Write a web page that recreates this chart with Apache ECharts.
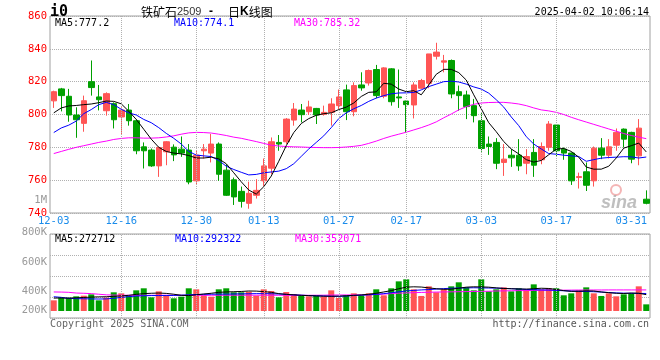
<!DOCTYPE html>
<html><head><meta charset="utf-8">
<script src="https://cdn.jsdelivr.net/npm/echarts@6/dist/echarts.min.js"></script>
<style>html,body{margin:0;padding:0;background:#fff}#c{width:660px;height:360px}</style>
</head><body><div id="c"></div>
<script>
const dates = ['12-03','12-04','12-05','12-06','12-09','12-10','12-11','12-12','12-13','12-16','12-17','12-18','12-19','12-20','12-23','12-24','12-25','12-26','12-27','12-30','12-31',
'01-02','01-03','01-06','01-07','01-08','01-09','01-10','01-13','01-14','01-15','01-16','01-17','01-20','01-21','01-22','01-23','01-24','01-27',
'02-05','02-06','02-07','02-10','02-11','02-12','02-13','02-14','02-17','02-18','02-19','02-20','02-21','02-24','02-25','02-26','02-27','02-28',
'03-03','03-04','03-05','03-06','03-07','03-10','03-11','03-12','03-13','03-14','03-17','03-18','03-19','03-20','03-21','03-24','03-25','03-26','03-27','03-28','03-31','04-01','04-02'];
const xLabels = ['12-03','12-16','12-30','01-13','01-27','02-17','03-03','03-17','03-31'];
const gridDates = ['12-16','12-30','01-13','01-27','02-17','03-03','03-17'];
const opens  = [808.3,815.6,811.1,799.7,794.6,820.0,810.7,802.3,806.6,798.5, 802.7,796.2,780.3,778.3,768.7,777.3,780.1,778.9,778.3,759.6, 777.9,776.5,782.0,766.1,760.2,753.2,745.9,750.8,759.6,767.3, 783.0,783.4,796.6,802.7,801.7,803.7,800.1,801.3,805.4,815.0, 801.7,818.0,819.2,827.4,811.1,827.8,810.7,808.2,805.8,816.0, 819.0,835.5,831.9,832.9,813.9,811.9,805.4,796.2,782.0,783.0, 770.8,775.2,775.2,770.3,776.9,772.4,780.0,793.6,778.9,776.5, 761.6,765.1,759.6,779.5,775.2,781.3,791.1,789.1,774.8,748.4];
const closes = [813.9,811.5,799.7,796.8,808.4,816.4,809.0,812.7,796.8,802.7, 796.2,777.9,777.9,768.7,779.9,783.4,775.4,776.5,758.9,775.2, 778.9,782.0,763.6,750.8,749.8,747.1,752.0,753.8,768.7,783.4, 782.0,797.2,803.3,799.9,804.6,799.7,801.3,806.4,810.7,801.7, 817.6,816.2,826.8,811.5,828.4,807.8,810.1,806.0,818.0,820.7, 836.9,838.0,832.7,812.5,811.5,804.8,799.3,779.3,780.5,770.3, 772.8,773.6,768.7,774.4,769.1,780.5,794.2,777.9,776.5,759.6, 762.2,756.9,779.5,775.2,780.3,789.1,785.0,772.8,791.7,745.9];
const lows   = [804.0,801.9,795.6,785.8,789.5,811.5,802.5,799.3,791.5,787.7, 793.2,775.8,767.1,768.1,762.0,769.1,771.6,774.2,757.5,757.5, 773.2,770.8,759.6,750.4,744.9,743.3,742.6,748.8,756.5,763.6, 777.9,782.0,793.2,795.2,799.7,794.2,799.3,793.2,803.3,796.6, 798.9,814.5,817.6,809.9,809.9,805.4,804.0,789.1,797.6,815.6, 816.0,833.5,825.7,809.9,802.3,797.2,795.2,777.3,775.4,766.7, 762.6,768.1,765.7,763.6,762.0,769.7,777.9,774.4,772.4,757.1, 754.9,753.4,756.1,772.8,773.2,777.9,779.9,770.3,769.1,745.3];
const highs  = [814.5,816.2,815.6,804.4,811.5,832.9,818.0,813.5,807.4,804.4, 806.4,797.2,783.0,779.3,780.5,783.8,781.8,786.6,782.0,778.3, 782.0,788.1,783.0,769.7,761.6,756.1,759.1,760.6,773.2,786.0, 787.5,797.8,807.0,806.4,808.4,804.0,805.4,809.9,815.2,818.2, 819.6,825.7,827.4,830.2,828.8,828.2,827.4,808.4,819.6,821.7, 836.9,843.7,836.3,833.5,817.6,814.5,809.5,801.3,786.6,785.6, 782.0,778.9,785.0,778.9,785.0,783.0,796.0,794.2,779.9,776.9, 764.6,770.8,780.5,785.6,785.0,791.5,791.5,789.5,797.2,753.8];
const ma5  = [801.0,804.0,805.2,805.5,806.0,806.4,807.2,808.2,808.0,806.5, 802.0,797.0,791.0,785.0,780.0,777.5,776.5,776.0,775.0,773.5, 773.5,774.0,773.0,770.0,764.5,759.0,754.0,751.5,756.0,762.5, 771.5,781.0,789.0,794.5,797.5,799.5,800.5,801.0,803.0,804.5, 807.0,811.0,813.5,813.8,819.0,818.5,815.5,813.9,814.5,812.0, 818.0,824.5,827.5,827.5,825.5,821.0,812.0,803.5,795.0,789.5, 783.5,779.0,776.0,772.5,771.0,772.0,775.5,778.9,779.3,777.5, 774.0,768.0,766.7,766.7,768.5,773.5,779.5,781.0,782.6,777.2];
const ma10 = [789.0,791.8,793.5,796.0,800.5,803.0,806.0,807.4,806.0,803.2, 801.0,799.7,797.0,795.0,792.0,788.5,785.5,782.0,777.5,775.3, 774.8,774.4,772.0,768.5,766.5,764.8,763.2,763.5,764.5,765.0, 765.5,767.0,770.0,774.5,779.0,783.0,787.0,792.0,797.5,801.0, 803.5,805.5,808.0,810.0,811.5,812.6,813.1,813.2,813.4,815.0, 817.0,818.5,820.0,820.3,819.8,818.5,816.8,815.5,813.0,809.0, 804.5,798.5,793.2,786.5,782.0,779.0,776.2,775.8,775.2,774.8, 774.4,771.5,772.5,773.4,773.8,774.0,774.3,774.2,773.5,774.1];
const ma30 = [776.2,777.5,778.8,780.0,781.0,782.0,783.0,783.8,784.8,785.4, 785.8,785.8,785.6,785.6,785.8,786.3,787.0,788.0,788.8,789.1, 789.0,788.7,788.0,787.2,786.2,785.5,784.5,783.5,782.4,781.3, 780.8,780.5,780.3,780.2,780.0,779.9,779.8,779.8,779.9,780.2, 780.6,781.2,782.4,783.8,785.4,786.8,788.0,789.2,790.6,792.0, 793.6,795.5,798.0,800.3,802.8,804.8,806.2,807.0,807.3,807.4, 807.4,807.0,806.4,805.4,804.0,802.8,802.2,801.3,800.0,798.3, 796.8,795.4,794.0,792.6,791.2,789.8,788.4,787.2,786.2,785.3];
const volumes = [178,223,223,245,256,278,178,223,312,295, 256,345,379,228,328,267,212,239,379,362, 262,239,362,379,312,312,323,256,362,334, 228,317,284,256,245,256,245,345,217,262, 295,262,295,362,262,379,495,529,362,251, 412,312,362,412,479,395,345,529,328,362, 395,328,379,362,445,362,379,379,262,295, 345,395,295,251,295,245,278,295,412,111].map(v => v * 1000);
const vma5  = [215,218,214,220,226,232,236,238,245,252, 262,278,290,296,300,294,280,262,258,270, 284,296,312,318,322,326,334,332,324,312, 290,278,270,262,256,252,248,246,248,254, 262,268,280,296,318,340,372,398,404,400, 386,372,362,364,380,398,404,402,398,386, 376,372,368,366,372,380,376,360,340,328, 330,336,334,318,306,296,292,300,296,273].map(v => v * 1000);
const vma10 = [238,228,210,206,204,202,200,202,212,228, 240,250,254,258,258,258,260,264,270,276, 278,280,282,282,284,286,288,290,290,288, 284,278,270,264,258,254,250,246,245,250, 258,264,270,278,290,304,320,334,344,352, 358,366,374,380,384,386,388,386,384,382, 378,372,366,360,356,352,350,344,338,332, 328,326,322,316,308,302,298,296,294,292].map(v => v * 1000);
const vma30 = [318,316,312,300,296,290,280,270,266,264, 262,262,262,262,262,263,263,262,262,262, 262,263,263,264,264,264,264,264,263,263, 263,262,262,262,262,263,264,266,267,268, 268,269,272,276,282,290,298,302,306,310, 313,316,318,320,322,324,326,328,330,334, 336,338,340,342,344,345,346,347,348,349, 350,350,351,351,352,352,352,352,352,352].map(v => v * 1000);
const volTickLabels = ['800K','600K','400K','200K'];
const priceHeader = {ma5:'777.2', ma10:'774.1', ma30:'785.32'};
const volHeader = {ma5:'272712', ma10:'292322', ma30:'352071'};

const MONO = "'DejaVu Sans Mono','Liberation Mono',monospace";
const UP = '#ff5555', DOWN = '#00a000';
const GRIDC = '#b0b0b0';
const volTickY = [232, 262, 291, 310];

const chart = echarts.init(document.getElementById('c'), null, {renderer:'canvas'});

function gridHost(xi, yi){
  return {type:'line', xAxisIndex:xi, yAxisIndex:yi, data:dates.map(()=>null), silent:true, z:1, symbol:'none',
    markLine:{silent:true, symbol:['none','none'], label:{show:false}, animation:false,
      lineStyle:{type:'dotted', color:GRIDC, width:1}, emphasis:{disabled:true},
      data: gridDates.map(d => ({xAxis:d}))}};
}
function maLine(xi, yi, data, color){
  return {type:'line', xAxisIndex:xi, yAxisIndex:yi, data:data, symbol:'none', silent:true, z:4,
    lineStyle:{width:1, color:color}, itemStyle:{color:color}};
}
function txt(x, y, text, fill, font, align){
  return {type:'text', x:x, y:y, silent:true, z:10, style:{text:text, fill:fill, font:font, textAlign:align||'left', textVerticalAlign:'middle'}};
}

const graphics = [
  txt(50, 12, 'i0', '#000', 'bold 15px ' + MONO),
  txt(141, 12, '铁矿石', '#000', "12px 'Noto Sans CJK SC'"),
  txt(177, 12, '2509', '#333', "11px 'Liberation Sans'"),
  txt(209, 12, '-', '#000', "bold 12px 'Liberation Sans'"),
  {type:'text', x:228, y:12, silent:true, z:10, style:{text:'{n|日}{k|K}{n|线图}', textVerticalAlign:'middle',
    rich:{n:{fill:'#000', font:"12px 'Noto Sans CJK SC'"}, k:{fill:'#000', font:"bold 12px 'Liberation Sans'"}}}},
  txt(649, 12, '2025-04-02 10:06:14', '#000', '10px ' + MONO, 'right'),
  txt(55, 23, 'MA5:' + priceHeader.ma5, '#000', '10px ' + MONO),
  txt(174, 23, 'MA10:' + priceHeader.ma10, '#0000ff', '10px ' + MONO),
  txt(294, 23, 'MA30:' + priceHeader.ma30, '#ff00ff', '10px ' + MONO),
  txt(55, 239, 'MA5:' + volHeader.ma5, '#000', '10px ' + MONO),
  txt(175, 239, 'MA10:' + volHeader.ma10, '#0000ff', '10px ' + MONO),
  txt(295, 239, 'MA30:' + volHeader.ma30, '#ff00ff', '10px ' + MONO),
  txt(47, 200.5, '1M', '#999', '10.5px ' + MONO, 'right'),
  txt(50, 324.5, 'Copyright 2025 SINA.COM', '#666', '10px ' + MONO),
  txt(649, 324.5, 'http://finance.sina.com.cn', '#555', '10px ' + MONO, 'right'),
  {type:'circle', shape:{cx:616, cy:190, r:5}, silent:true, z:9, style:{fill:'none', stroke:'rgba(240,150,150,0.7)', lineWidth:2}},
  txt(601, 203, 'sina', 'rgba(170,170,170,0.75)', 'italic bold 18px Arial', 'left')
];
volTickLabels.forEach((t, k) => graphics.push(txt(47, volTickY[k], t, '#999', '10.5px ' + MONO, 'right')));

const option = {
  animation:false,
  backgroundColor:'#fff',
  grid:[
    {left:50, right:10, top:16, height:197, show:true, borderColor:'#a0a0a0', borderWidth:1},
    {left:50, right:10, top:234, height:84, show:true, borderColor:'#a0a0a0', borderWidth:1}
  ],
  xAxis:[
    {type:'category', gridIndex:0, data:dates, boundaryGap:true,
     axisLine:{show:false}, axisTick:{show:false}, splitLine:{show:false},
     axisLabel:{interval:(i, v) => xLabels.includes(v), color:'#1a8ceb', fontFamily:MONO, fontSize:10.5, margin:3, hideOverlap:false}},
    {type:'category', gridIndex:1, data:dates, boundaryGap:true,
     axisLine:{show:false}, axisTick:{show:false}, splitLine:{show:false}, axisLabel:{show:false}}
  ],
  yAxis:[
    {type:'value', gridIndex:0, min:740, max:860, interval:20, scale:true,
     axisLine:{show:false}, axisTick:{show:false},
     splitLine:{lineStyle:{type:'dotted', color:GRIDC}},
     axisLabel:{color:'#ff0000', fontFamily:MONO, fontSize:10.5, margin:3}},
    {type:'value', gridIndex:1, min:-117000, max:1286000, show:false, splitLine:{show:false}},
    {type:'value', gridIndex:1, min:0, max:4, interval:1,
     axisLine:{show:false}, axisTick:{show:false}, axisLabel:{show:false},
     splitLine:{lineStyle:{type:'dotted', color:GRIDC}}}
  ],
  series:[
    gridHost(0, 0),
    {type:'candlestick', xAxisIndex:0, yAxisIndex:0, barWidth:6, z:3, silent:true,
     data: opens.map((o, i) => [o, closes[i], lows[i], highs[i]]),
     itemStyle:{color:UP, color0:DOWN, borderColor:UP, borderColor0:DOWN, borderWidth:1}},
    maLine(0, 0, ma30, '#ff00ff'),
    maLine(0, 0, ma10, '#0000ff'),
    maLine(0, 0, ma5, '#000000'),
    gridHost(1, 1),
    {type:'bar', xAxisIndex:1, yAxisIndex:1, barWidth:6, z:3, silent:true,
     data: volumes.map((v, i) => ({value:v, itemStyle:{color: closes[i] >= opens[i] ? UP : DOWN}}))},
    maLine(1, 1, vma30, '#ff00ff'),
    maLine(1, 1, vma10, '#0000ff'),
    maLine(1, 1, vma5, '#000000')
  ],
  graphic: graphics
};
chart.setOption(option);
</script>
</body></html>
